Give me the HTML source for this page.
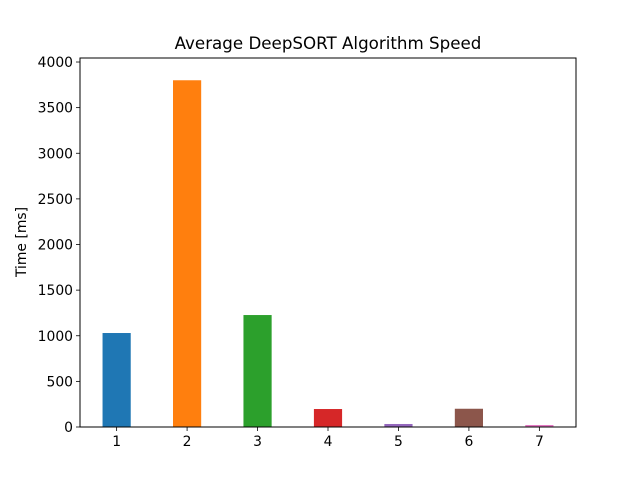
<!DOCTYPE html>
<html><head><meta charset="utf-8"><style>body{margin:0;background:#fff}svg{display:block;font-family:"DejaVu Sans","Liberation Sans",sans-serif}</style></head>
<body>
<svg id="chart" width="640" height="480" viewBox="0 0 640 480" xmlns="http://www.w3.org/2000/svg">
<rect width="640" height="480" fill="#fff"/>
<text x="328" y="49" text-anchor="middle" font-size="16.7">Average DeepSORT Algorithm Speed</text>
<text transform="translate(26,242) rotate(-90)" text-anchor="middle" font-size="13.9">Time [ms]</text>
<g id="bars"></g><g id="axes"></g>
</svg>
<script>
const categories = ["1","2","3","4","5","6","7"];
const values = [1030, 3800, 1227, 197, 33, 200, 22];
const colors = ["#1f77b4","#ff7f0e","#2ca02c","#d62728","#9467bd","#8c564b","#e377c2"];
const yTicks = [0,500,1000,1500,2000,2500,3000,3500,4000];
const L=80,R=576,T=58,B=427;
const xMin=0.48,xMax=7.52,yMax=4044;
const xs=v=>L+(v-xMin)/(xMax-xMin)*(R-L);
const ys=v=>B-v/yMax*(B-T);
const NS="http://www.w3.org/2000/svg";
const bars=document.getElementById('bars'),axes=document.getElementById('axes');
function mk(p,tag,a){const e=document.createElementNS(NS,tag);for(const k in a)e.setAttribute(k,a[k]);p.appendChild(e);return e;}
values.forEach((v,i)=>{
  const c=i+1,w=0.4*(R-L)/(xMax-xMin);
  const r=mk(bars,'rect',{x:xs(c)-w/2,y:ys(v),width:w,height:B-ys(v),fill:colors[i]});
  
  
  const t=mk(axes,'line',{x1:xs(c),x2:xs(c),y1:B,y2:B+4,stroke:'#000','stroke-width':0.8});
  
  
  const l=mk(axes,'text',{x:xs(c),y:B+19,'text-anchor':'middle','font-size':13.9});
  l.textContent=categories[i];
  
  
});
yTicks.forEach(v=>{
  const t=mk(axes,'line',{x1:L-4,x2:L,y1:ys(v),y2:ys(v),stroke:'#000','stroke-width':0.8});
  
  
  const l=mk(axes,'text',{x:L-7,y:ys(v)+5,'text-anchor':'end','font-size':13.9});
  l.textContent=v;
  
  
});
const f=mk(axes,'rect',{x:L,y:T,width:R-L,height:B-T,fill:'none',stroke:'#000','stroke-width':1});


</script>
</body></html>
